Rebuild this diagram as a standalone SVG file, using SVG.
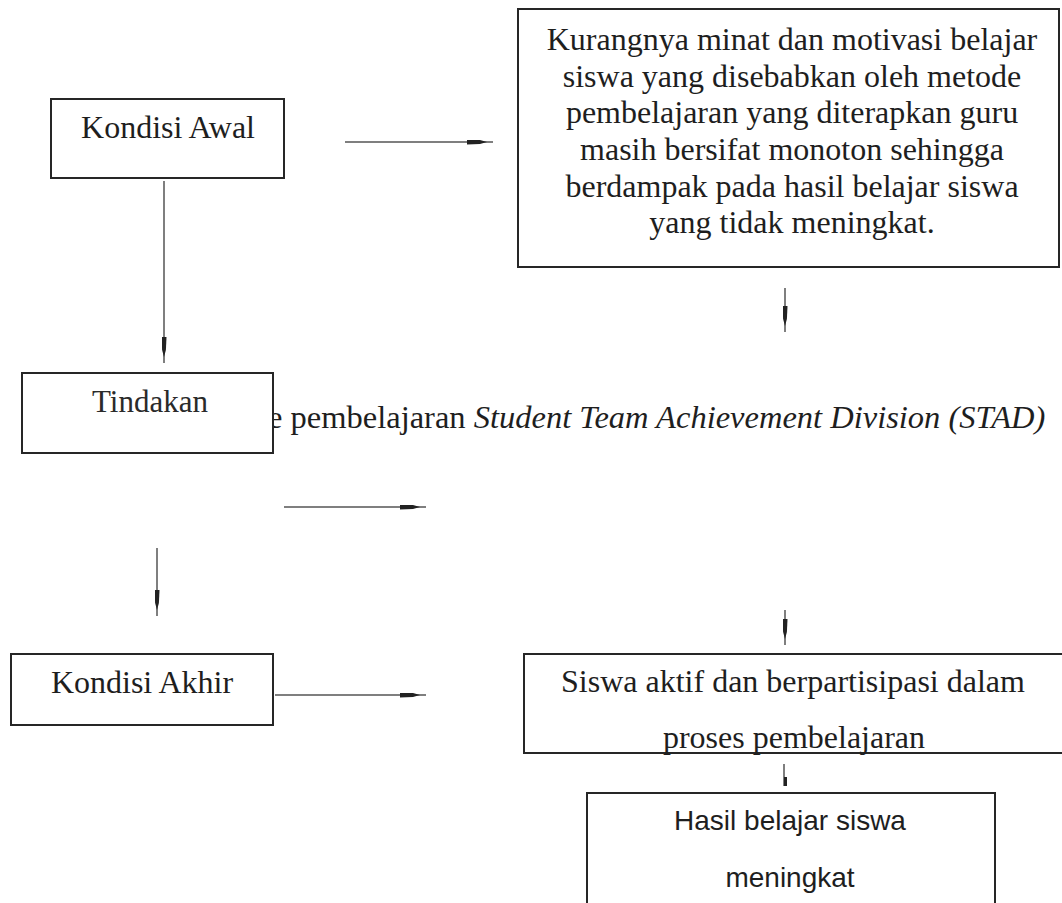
<svg xmlns="http://www.w3.org/2000/svg" width="1062" height="903" viewBox="0 0 1062 903">
<style>
.box{fill:#fff;stroke:#262626;stroke-width:2}
.t{font-family:"Liberation Serif","Times New Roman",serif;font-size:32px;fill:#1e1e1e;text-anchor:middle}
.s{font-family:"Liberation Sans",Arial,sans-serif;font-size:28px;fill:#1e1e1e;text-anchor:middle}
.ln{stroke:#555;stroke-width:1.5;fill:none}
</style>
<defs>
<marker id="ah" viewBox="0 0 26 5" refX="26" refY="2.5" markerWidth="26" markerHeight="5" markerUnits="userSpaceOnUse" orient="auto">
<path d="M0,0 L13,0.6 L20,2.5 L13,4.4 L0,5 Z" fill="#222"/>
</marker>
</defs>
<rect width="1062" height="903" fill="#fff"/>
<g id="connectors">
<line class="ln" x1="345" y1="142" x2="493" y2="142" marker-end="url(#ah)"/>
<line class="ln" x1="164" y1="181" x2="164" y2="363" marker-end="url(#ah)"/>
<line class="ln" x1="785" y1="288" x2="785" y2="332" marker-end="url(#ah)"/>
<line class="ln" x1="284" y1="507" x2="426" y2="507" marker-end="url(#ah)"/>
<line class="ln" x1="157" y1="548" x2="157" y2="616" marker-end="url(#ah)"/>
<line class="ln" x1="275" y1="695" x2="426" y2="695" marker-end="url(#ah)"/>
<line class="ln" x1="785" y1="610" x2="785" y2="645" marker-end="url(#ah)"/>
<line class="ln" x1="784" y1="764" x2="784" y2="786"/>
<rect x="784" y="777" width="3" height="9" fill="#222"/>
</g>
<g id="kondisi-awal">
<rect class="box" x="51" y="99" width="233" height="79"/>
<text class="t" x="168" y="138">Kondisi Awal</text>
</g>
<g id="masalah">
<rect class="box" x="518" y="9" width="541" height="258"/>
<text class="t" x="792" y="50">Kurangnya minat dan motivasi belajar</text>
<text class="t" x="792" y="87">siswa yang disebabkan oleh metode</text>
<text class="t" x="792" y="123">pembelajaran yang diterapkan guru</text>
<text class="t" x="792" y="160">masih bersifat monoton sehingga</text>
<text class="t" x="792" y="197">berdampak pada hasil belajar siswa</text>
<text class="t" x="792" y="233">yang tidak meningkat.</text>
</g>
<text class="t" x="268" y="428" style="text-anchor:start;font-size:32.5px">e pembelajaran <tspan font-style="italic">Student Team Achievement Division (STAD)</tspan></text>
<g id="tindakan">
<rect class="box" x="22" y="373" width="251" height="80"/>
<text class="t" x="150" y="412" style="font-size:31px;fill:#2a2a2a">Tindakan</text>
</g>
<g id="kondisi-akhir">
<rect class="box" x="11" y="654" width="262" height="71"/>
<text class="t" x="142" y="693">Kondisi Akhir</text>
</g>
<g id="siswa-aktif">
<rect class="box" x="524" y="654" width="545" height="99"/>
<text class="t" x="793" y="692">Siswa aktif dan berpartisipasi dalam</text>
<text class="t" x="794" y="748">proses pembelajaran</text>
</g>
<g id="hasil">
<rect class="box" x="587" y="793" width="408" height="120"/>
<text class="s" x="790" y="830">Hasil belajar siswa</text>
<text class="s" x="790" y="887">meningkat</text>
</g>
</svg>
